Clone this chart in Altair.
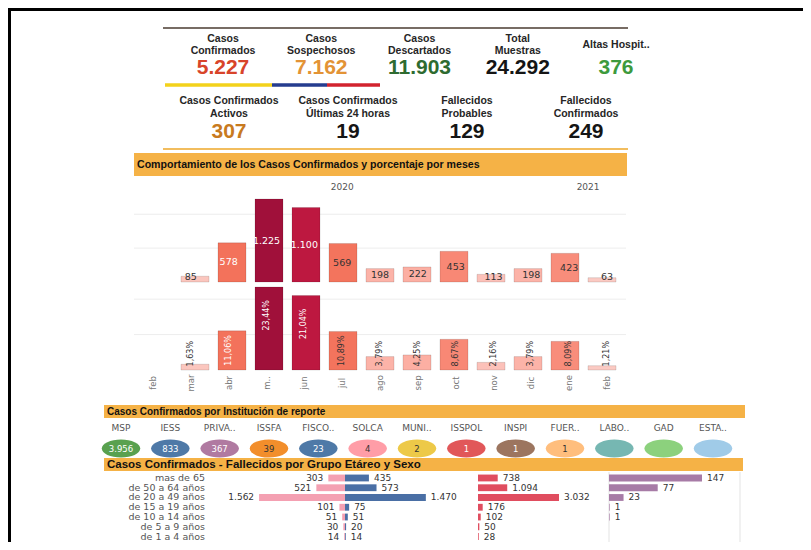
import altair as alt
import pandas as pd

# ---------------- data ----------------
kpi1_line1 = ["Casos", "Casos", "Casos", "Total", ""]
kpi1_line2 = ["Confirmados", "Sospechosos", "Descartados", "Muestras", ""]
kpi1_single = ["", "", "", "", "Altas Hospit.."]
kpi1_values = [5227, 7162, 11903, 24292, 376]

kpi2_line1 = ["Casos Confirmados", "Casos Confirmados", "Fallecidos", "Fallecidos"]
kpi2_line2 = ["Activos", "Últimas 24 horas", "Probables", "Confirmados"]
kpi2_values = [307, 19, 129, 249]

months = ["feb", "mar", "abr", "m..", "jun", "jul", "ago", "sep", "oct", "nov", "dic", "ene", "feb"]
years = ["2020", "2020", "2020", "2020", "2020", "2020", "2020", "2020", "2020", "2020", "2020", "2021", "2021"]
month_cases = [0, 85, 578, 1225, 1100, 569, 198, 222, 453, 113, 198, 423, 63]
month_pct = [0, 1.63, 11.06, 23.44, 21.04, 10.89, 3.79, 4.25, 8.67, 2.16, 3.79, 8.09, 1.21]
count_grid = [500, 1000]
pct_grid = [10, 20]

institutions = ["MSP", "IESS", "PRIVA..", "ISSFA", "FISCO..", "SOLCA", "MUNI..",
                "ISSPOL", "INSPI", "FUER..", "LABO..", "GAD", "ESTA.."]
institution_cases = [3956, 833, 367, 39, 23, 4, 2, 1, 1, 1, None, None, None]

age_groups = ["mas de 65", "de 50 a 64 años", "de 20 a 49 años", "de 15 a 19 años",
              "de 10 a 14 años", "de 5 a 9 años", "de 1 a 4 años"]
female_cases = [303, 521, 1562, 101, 51, 30, 14]
male_cases = [435, 573, 1470, 75, 51, 20, 14]
total_cases = [738, 1094, 3032, 176, 102, 50, 28]
deaths = [147, 77, 23, 1, 1, None, None]

# ---------------- styles ----------------
F1 = "Liberation Sans"
F2 = "DejaVu Sans"
GOLD = "#f5b246"
kpi1_colors = ["#d8442a", "#e39335", "#2e6b30", "#151515", "#3d9a3d"]
kpi2_colors = ["#c87a1e", "#151515", "#151515", "#151515"]
inst_colors = ["#59a14f", "#4e79a7", "#b07aa1", "#f28e2b", "#4e79a7", "#ff9da7", "#edc948",
               "#e15759", "#9c755f", "#ffbe7d", "#76b7b2", "#8cd17d", "#a0cbe8"]
inst_text = ["#ffffff", "#ffffff", "#ffffff", "#333333", "#ffffff", "#333333", "#333333",
             "#ffffff", "#ffffff", "#333333", "#333333", "#333333", "#333333"]
ELLIPSE = "M -1 0 A 1 0.47 0 1 1 1 0 A 1 0.47 0 1 1 -1 0 Z"
DOTFMT = "replace(format({v}, ','), ',', '.')"

one = pd.DataFrame({"a": [0]})


def rect(x0, x1, y0, y1, color):
    return alt.Chart(one).mark_rect(color=color).encode(
        x=alt.value(x0), x2=alt.value(x1), y=alt.value(y0), y2=alt.value(y1))


def hline(x0, x1, y, color, w):
    return alt.Chart(one).mark_rule(color=color, strokeWidth=w).encode(
        x=alt.value(x0), x2=alt.value(x1), y=alt.value(y))


def label(text, x, y, size, weight="bold", font=F1, color="#111", align="left"):
    return alt.Chart(pd.DataFrame({"t": [text]})).mark_text(
        font=font, fontSize=size, fontWeight=weight, color=color, align=align, baseline="middle"
    ).encode(x=alt.value(x), y=alt.value(y), text="t:N")


layers = []

# frame
layers += [rect(0, 795, 0, 3, "#000"), rect(0, 3, 0, 534, "#000")]

# ---------------- KPI rows ----------------
df_k1 = pd.DataFrame({"k": list(range(5)), "l1": kpi1_line1, "l2": kpi1_line2,
                      "s": kpi1_single, "v": kpi1_values, "c": kpi1_colors})
xk1 = alt.X("k:O", scale=alt.Scale(type="point", domain=list(range(5)), range=[215, 608], padding=0), axis=None)
ktitle = dict(font=F1, fontSize=10.5, fontWeight="bold", color="#262626", baseline="middle")
layers += [
    hline(155, 620, 20, "#4a3b30", 1.5),
    alt.Chart(df_k1).mark_text(**ktitle).encode(x=xk1, y=alt.value(31), text="l1:N"),
    alt.Chart(df_k1).mark_text(**ktitle).encode(x=xk1, y=alt.value(43), text="l2:N"),
    alt.Chart(df_k1).mark_text(**ktitle).encode(x=xk1, y=alt.value(37), text="s:N"),
    alt.Chart(df_k1).mark_text(font=F1, fontSize=21, fontWeight="bold", baseline="middle").encode(
        x=xk1, y=alt.value(60), text="vt:N", color=alt.Color("c:N", scale=None)
    ).transform_calculate(vt=DOTFMT.format(v="datum.v")),
    hline(157, 264, 77, "#f3d21b", 3.5),
    hline(264, 319, 77, "#253c8f", 3.5),
    hline(319, 372, 77, "#d2232e", 3.5),
]

df_k2 = pd.DataFrame({"k": list(range(4)), "l1": kpi2_line1, "l2": kpi2_line2,
                      "v": kpi2_values, "c": kpi2_colors})
xk2 = alt.X("k:O", scale=alt.Scale(type="point", domain=list(range(4)), range=[221, 578], padding=0), axis=None)
layers += [
    alt.Chart(df_k2).mark_text(**ktitle).encode(x=xk2, y=alt.value(93), text="l1:N"),
    alt.Chart(df_k2).mark_text(**ktitle).encode(x=xk2, y=alt.value(106), text="l2:N"),
    alt.Chart(df_k2).mark_text(font=F1, fontSize=21, fontWeight="bold", baseline="middle").encode(
        x=xk2, y=alt.value(124), text="vt:N", color=alt.Color("c:N", scale=None)
    ).transform_calculate(vt=DOTFMT.format(v="datum.v")),
    hline(155, 620, 141, "#f2bd5e", 2),
]

# ---------------- monthly section ----------------
layers += [
    rect(126, 619, 145, 168, GOLD),
    label("Comportamiento de los Casos Confirmados y porcentaje por meses", 129, 157, 10.6),
]

df_m = pd.DataFrame({"i": list(range(len(months))), "m": months, "year": years,
                     "n": month_cases, "pct": month_pct})
xm = alt.X("i:Q", scale=alt.Scale(domain=[0, 12], range=[145, 599]), axis=None)
sc_n = alt.Scale(domain=[0, 1225], range=[274, 191])
sc_p = alt.Scale(domain=[0, 23.44], range=[362, 279])
col_n = alt.Color("n:Q", scale=alt.Scale(domain=[0, 600, 1000, 1225],
                                         range=["#fad4cf", "#f26e57", "#d41f44", "#a0103a"]), legend=None)
bar_style = dict(size=28, orient="vertical", stroke="#000000", strokeOpacity=0.12, strokeWidth=1)

layers += [
    alt.Chart(pd.DataFrame({"g": count_grid})).mark_rule(color="#ededed").encode(
        y=alt.Y("g:Q", scale=sc_n, axis=None), x=alt.value(126), x2=alt.value(618)),
    alt.Chart(pd.DataFrame({"g": pct_grid})).mark_rule(color="#ededed").encode(
        y=alt.Y("g:Q", scale=sc_p, axis=None), x=alt.value(126), x2=alt.value(618)),
    alt.Chart(df_m).transform_aggregate(mid="mean(i)", groupby=["year"]).mark_text(
        font=F2, fontSize=9, color="#555", baseline="middle").encode(
        x=alt.X("mid:Q", scale=alt.Scale(domain=[0, 12], range=[145, 599]), axis=None),
        y=alt.value(179), text="year:N"),
    alt.Chart(df_m).transform_filter("datum.n > 0").mark_bar(**bar_style).encode(
        x=xm, y=alt.Y("n:Q", scale=sc_n, axis=None, stack=None), color=col_n),
    alt.Chart(df_m).transform_filter("datum.n > 0").transform_calculate(
        lp="max(datum.n / 2, 70)", nt=DOTFMT.format(v="datum.n"),
        tc="datum.n > 570 ? '#ffffff' : '#333333'"
    ).mark_text(font=F2, fontSize=9.5, baseline="middle").encode(
        x=xm, y=alt.Y("lp:Q", scale=sc_n, axis=None), text="nt:N", color=alt.Color("tc:N", scale=None)),
    alt.Chart(df_m).transform_filter("datum.pct > 0").mark_bar(**bar_style).encode(
        x=xm, y=alt.Y("pct:Q", scale=sc_p, axis=None, stack=None), color=col_n),
    alt.Chart(df_m).transform_filter("datum.pct > 0").transform_calculate(
        lp="datum.pct > 15 ? datum.pct - 8 : max(datum.pct / 2, 4.6)",
        pt="replace(format(datum.pct, '.2f'), '.', ',') + '%'",
        tc="datum.n > 570 ? '#ffffff' : '#333333'"
    ).mark_text(font=F2, fontSize=8, angle=270, align="center", baseline="middle").encode(
        x=xm, y=alt.Y("lp:Q", scale=sc_p, axis=None), text="pt:N", color=alt.Color("tc:N", scale=None)),
    alt.Chart(df_m).mark_text(font=F2, fontSize=8.5, angle=270, align="center", baseline="middle",
                              color="#777").encode(x=xm, y=alt.value(375), text="m:N"),
]

# ---------------- institutions ----------------
layers += [
    rect(96, 737, 397, 410, GOLD),
    label("Casos Confirmados por Institución de reporte", 99, 403.5, 10),
]
df_i = pd.DataFrame({"inst": institutions, "v": institution_cases, "c": inst_colors, "tc": inst_text})
xi = alt.X("inst:N", sort=institutions,
           scale=alt.Scale(type="point", domain=institutions, range=[113, 705], padding=0), axis=None)
layers += [
    alt.Chart(df_i).mark_text(font=F2, fontSize=9, color="#555", baseline="middle").encode(
        x=xi, y=alt.value(420), text="inst:N"),
    alt.Chart(df_i).mark_point(shape=ELLIPSE, size=1480, filled=True, opacity=1, strokeWidth=0).encode(
        x=xi, y=alt.value(440.5), color=alt.Color("c:N", scale=None)),
    alt.Chart(df_i).transform_filter("isValid(datum.v)").transform_calculate(
        vt=DOTFMT.format(v="datum.v")).mark_text(font=F2, fontSize=8.5, baseline="middle").encode(
        x=xi, y=alt.value(441), text="vt:N", color=alt.Color("tc:N", scale=None)),
]

# ---------------- age / sex ----------------
layers += [
    rect(96, 735, 450, 463, GOLD),
    label("Casos Confirmados - Fallecidos por Grupo Etáreo y Sexo", 99, 456.5, 11.5),
]
df_a = pd.DataFrame({"age": age_groups, "f": female_cases, "m": male_cases,
                     "t": total_cases, "d": deaths})
df_a["fneg"] = -df_a["f"]
ya = alt.Y("age:N", sort=age_groups,
           scale=alt.Scale(domain=age_groups, range=[465.1, 533.4], paddingInner=0.3, paddingOuter=0.15),
           axis=None)
sc_fm = alt.Scale(domain=[-1600, 1600], range=[249, 425])
sc_t = alt.Scale(domain=[0, 3032], range=[470, 551])
sc_d = alt.Scale(domain=[0, 147], range=[601, 694])
vtxt = dict(font=F2, fontSize=9, color="#333", baseline="middle")

layers += [
    alt.Chart(one).mark_rule(color="#e3e3e3").encode(x=alt.value(601), y=alt.value(464), y2=alt.value(534)),
    alt.Chart(one).mark_rule(color="#e3e3e3").encode(x=alt.value(732), y=alt.value(464), y2=alt.value(534)),
    alt.Chart(df_a).mark_text(font=F2, fontSize=9.5, color="#555", align="right", baseline="middle").encode(
        x=alt.value(197), y=ya, text="age:N"),
    alt.Chart(df_a).mark_bar(orient="horizontal", color="#f4a0b2").encode(
        x=alt.X("fneg:Q", scale=sc_fm, axis=None, stack=None), y=ya),
    alt.Chart(df_a).mark_bar(orient="horizontal", color="#4a6fa5").encode(
        x=alt.X("m:Q", scale=sc_fm, axis=None, stack=None), y=ya),
    alt.Chart(df_a).transform_calculate(lt=DOTFMT.format(v="datum.f")).mark_text(
        align="right", dx=-5, **vtxt).encode(x=alt.X("fneg:Q", scale=sc_fm, axis=None), y=ya, text="lt:N"),
    alt.Chart(df_a).transform_calculate(lt=DOTFMT.format(v="datum.m")).mark_text(
        align="left", dx=5, **vtxt).encode(x=alt.X("m:Q", scale=sc_fm, axis=None), y=ya, text="lt:N"),
    alt.Chart(df_a).mark_bar(orient="horizontal", color="#e04d5f").encode(
        x=alt.X("t:Q", scale=sc_t, axis=None, stack=None), y=ya),
    alt.Chart(df_a).transform_calculate(lt=DOTFMT.format(v="datum.t")).mark_text(
        align="left", dx=5, **vtxt).encode(x=alt.X("t:Q", scale=sc_t, axis=None), y=ya, text="lt:N"),
    alt.Chart(df_a).transform_filter("isValid(datum.d)").mark_bar(orient="horizontal", color="#a77ba6").encode(
        x=alt.X("d:Q", scale=sc_d, axis=None, stack=None), y=ya),
    alt.Chart(df_a).transform_filter("isValid(datum.d)").transform_calculate(
        lt=DOTFMT.format(v="datum.d")).mark_text(align="left", dx=5, **vtxt).encode(
        x=alt.X("d:Q", scale=sc_d, axis=None), y=ya, text="lt:N"),
]

chart = alt.layer(*layers).resolve_scale(
    x="independent", y="independent", color="independent"
).properties(
    width=795, height=534, autosize=alt.AutoSizeParams(type="none"), padding=0
).configure_view(stroke=None)

chart.save("out.html", embed_options={"renderer": "svg", "actions": False})
